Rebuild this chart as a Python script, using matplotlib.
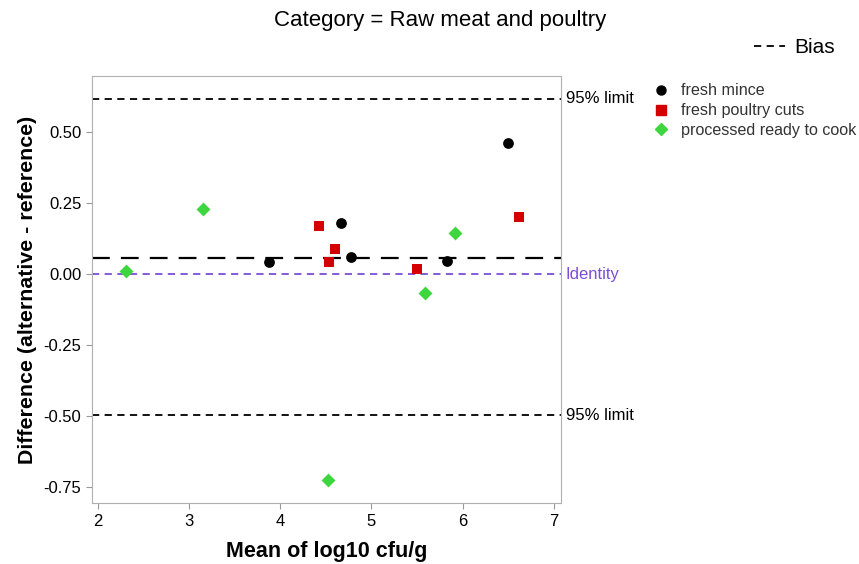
import matplotlib
matplotlib.use("Agg")
import matplotlib.pyplot as plt
from matplotlib.lines import Line2D

plt.rcParams['font.family'] = ['Liberation Sans', 'DejaVu Sans']

title = "Category = Raw meat and poultry"
series_names = ["fresh mince", "fresh poultry cuts", "processed ready to cook"]
mince_x = [3.87, 4.67, 4.77, 5.83, 6.50]
mince_y = [0.041, 0.180, 0.061, 0.045, 0.461]
poultry_x = [4.42, 4.53, 4.60, 5.50, 6.62]
poultry_y = [0.169, 0.041, 0.087, 0.018, 0.202]
processed_x = [2.30, 3.155, 4.52, 5.59, 5.92]
processed_y = [0.012, 0.230, -0.723, -0.065, 0.146]
bias = 0.057
upper_limit = 0.617
lower_limit = -0.497
identity = 0.0
xticks = [2, 3, 4, 5, 6, 7]
yticks = [-0.75, -0.50, -0.25, 0.00, 0.25, 0.50]

fig = plt.figure(figsize=(8.59, 5.64), dpi=100)
ax = fig.add_axes([0.107, 0.108, 0.546, 0.757])

ax.axhline(upper_limit, color='black', ls=(0, (4, 3)), lw=1.3, zorder=1)
ax.axhline(lower_limit, color='black', ls=(0, (4, 3)), lw=1.3, zorder=1)
ax.axhline(bias, color='black', ls=(0, (8, 5)), lw=1.6, zorder=1)
ax.axhline(identity, color='#7b4fd6', ls=(0, (4, 3)), lw=1.3, zorder=1)

ax.scatter(mince_x, mince_y, marker='o', s=60, color='black', zorder=3, linewidths=0)
ax.scatter(poultry_x, poultry_y, marker='s', s=60, color='#d40000', zorder=3, linewidths=0)
ax.scatter(processed_x, processed_y, marker='D', s=50, color='#3ed63e', zorder=3, linewidths=0)

ax.set_xlim(1.93, 7.08)
ax.set_ylim(-0.806, 0.697)
ax.set_xticks(xticks)
ax.set_yticks(yticks)
ax.set_xticklabels([str(t) for t in xticks])
ax.set_yticklabels([f"{t:.2f}" for t in yticks])
ax.tick_params(labelsize=12, color='#999999', length=4)
for s in ax.spines.values():
    s.set_color('#b0b0b0')

ax.set_xlabel("Mean of log10 cfu/g", fontsize=15.5, fontweight='bold', labelpad=9)
ax.set_ylabel("Difference (alternative - reference)", fontsize=15.4, fontweight='bold', labelpad=5)

tr = ax.get_yaxis_transform()
ax.text(1.01, upper_limit, "95% limit", transform=tr, va='center', ha='left', fontsize=12, clip_on=False)
ax.text(1.01, lower_limit, "95% limit", transform=tr, va='center', ha='left', fontsize=12, clip_on=False)
ax.text(1.01, identity, "Identity", transform=tr, va='center', ha='left', fontsize=12,
        color='#7b4fd6', clip_on=False)

fig.text(0.512, 0.963, title, ha='center', va='center', fontsize=16)

handles = [
    Line2D([], [], marker='o', color='black', ls='', markersize=6.5),
    Line2D([], [], marker='s', color='#d40000', ls='', markersize=6.5),
    Line2D([], [], marker='D', color='#3ed63e', ls='', markersize=6),
]
leg = fig.legend(handles, series_names, loc='upper left', bbox_to_anchor=(0.758, 0.852),
                 frameon=False, fontsize=11.6, handletextpad=0.68, labelspacing=0.3,
                 borderaxespad=0, borderpad=0, handlelength=1.2)
for t in leg.get_texts():
    t.set_color('#333333')

bias_handle = [Line2D([], [], color='black', ls=(0, (4, 3)), lw=1.3)]
fig.legend(bias_handle, ["Bias"], loc='center left', bbox_to_anchor=(0.878, 0.916),
           frameon=False, fontsize=15, handlelength=1.5, handletextpad=0.4,
           borderaxespad=0, borderpad=0)

fig.savefig("out.png", dpi=100)
